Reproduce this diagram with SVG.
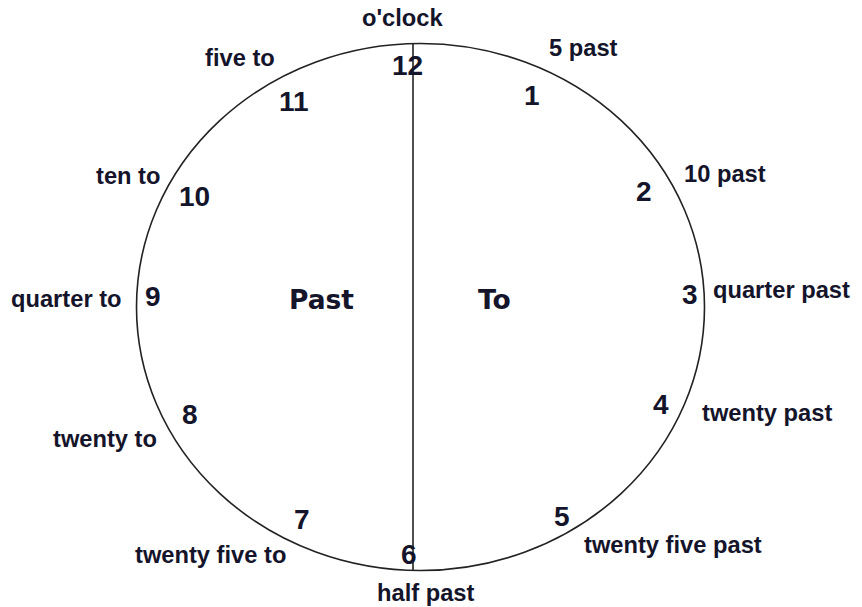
<svg xmlns="http://www.w3.org/2000/svg" width="862" height="607" viewBox="0 0 862 607">
<style>
.lbl{font-family:"Liberation Sans",Arial,sans-serif;font-weight:bold;font-size:23.7px;fill:#14142a}
.num{font-family:"Liberation Sans",Arial,sans-serif;font-weight:bold;font-size:28px;fill:#14142a}
.half{font-family:"DejaVu Sans",Verdana,sans-serif;font-weight:bold;font-size:26.5px;fill:#14142a}
.face{fill:none;stroke:#222;stroke-width:1.6}
</style>
<rect width="862" height="607" fill="#fff"/>
<g id="clock-face">
<ellipse class="face" cx="420.5" cy="307" rx="284" ry="263.5"/>
</g>
<g id="connectors">
<line x1="413" y1="44" x2="413" y2="570" stroke="#222" stroke-width="1.6"/>
</g>
<g id="h12"><text class="lbl" x="362" y="26">o'clock</text><text class="num" x="392" y="75">12</text></g>
<g id="h1"><text class="lbl" x="549" y="56">5 past</text><text class="num" x="524" y="105">1</text></g>
<g id="h2"><text class="lbl" x="684" y="182">10 past</text><text class="num" x="636" y="201">2</text></g>
<g id="h3"><text class="lbl" x="713" y="298">quarter past</text><text class="num" x="682" y="304">3</text></g>
<g id="h4"><text class="lbl" x="702" y="421">twenty past</text><text class="num" x="653" y="414">4</text></g>
<g id="h5"><text class="lbl" x="584" y="553">twenty five past</text><text class="num" x="554" y="526">5</text></g>
<g id="h6"><text class="lbl" x="377" y="601">half past</text><text class="num" x="401" y="564">6</text></g>
<g id="h7"><text class="lbl" x="135" y="563">twenty five to</text><text class="num" x="294" y="529">7</text></g>
<g id="h8"><text class="lbl" x="53" y="447">twenty to</text><text class="num" x="182" y="424">8</text></g>
<g id="h9"><text class="lbl" x="11" y="307">quarter to</text><text class="num" x="145" y="306">9</text></g>
<g id="h10"><text class="lbl" x="96" y="184">ten to</text><text class="num" x="179" y="206">10</text></g>
<g id="h11"><text class="lbl" x="205" y="66">five to</text><text class="num" x="279" y="111">11</text></g>
<g id="past"><text class="half" x="289" y="309">Past</text></g>
<g id="to"><text class="half" x="478" y="309">To</text></g>
</svg>
